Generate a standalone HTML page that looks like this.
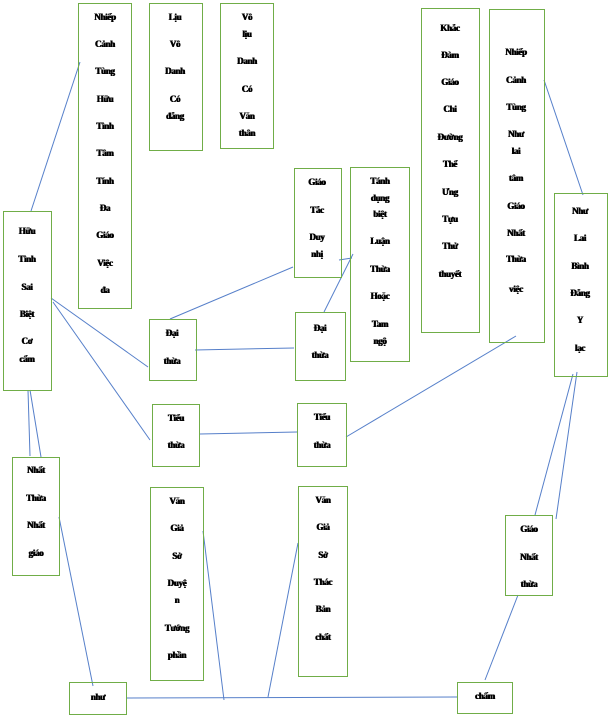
<!DOCTYPE html>
<html><head><meta charset="utf-8"><style>
body{margin:0;width:610px;height:717px;background:#fff;position:relative;overflow:hidden;font-family:"Liberation Serif",serif;}
.b{position:absolute;border:1.3px solid #70ad47;box-sizing:border-box;}
.t{position:absolute;font-weight:bold;font-size:9px;line-height:10px;white-space:nowrap;transform:translate(-50%,-50%);color:#000;letter-spacing:-0.3px;text-shadow:0.4px 0 0 #000,-0.3px 0 0 #000}
svg{position:absolute;left:0;top:0}
</style></head><body>
<svg width="610" height="717"><g stroke="#4472c4" stroke-width="1" fill="none" opacity="0.9">
<line x1="31" y1="211" x2="80" y2="62"/>
<line x1="51" y1="298" x2="148" y2="367"/>
<line x1="53" y1="302" x2="150" y2="440"/>
<line x1="28" y1="390" x2="30" y2="456"/>
<line x1="30" y1="390" x2="41" y2="457"/>
<line x1="170" y1="319" x2="293" y2="267"/>
<line x1="195" y1="350" x2="294" y2="348"/>
<line x1="339" y1="260" x2="352" y2="258"/>
<line x1="324" y1="312" x2="353" y2="254"/>
<line x1="200" y1="434" x2="297" y2="432"/>
<line x1="346" y1="437" x2="516" y2="336"/>
<line x1="544" y1="80" x2="583" y2="195"/>
<line x1="573" y1="374" x2="535" y2="515"/>
<line x1="577" y1="372" x2="556" y2="519"/>
<line x1="518" y1="595" x2="485" y2="680"/>
<line x1="59" y1="517" x2="93" y2="686"/>
<line x1="126" y1="698" x2="457" y2="697"/>
<line x1="203" y1="531" x2="224" y2="700"/>
<line x1="298" y1="543" x2="268" y2="697"/>
</g></svg>

<div class="b" style="left:78px;top:3px;width:54px;height:306px"></div>
<div class="b" style="left:149px;top:3px;width:54px;height:148px"></div>
<div class="b" style="left:220px;top:3px;width:54px;height:146px"></div>
<div class="b" style="left:3px;top:211px;width:49px;height:180px"></div>
<div class="b" style="left:149px;top:319px;width:48px;height:62px"></div>
<div class="b" style="left:294px;top:168px;width:48px;height:110px"></div>
<div class="b" style="left:350px;top:167px;width:60px;height:195px"></div>
<div class="b" style="left:295px;top:312px;width:51px;height:69px"></div>
<div class="b" style="left:421px;top:8px;width:59px;height:325px"></div>
<div class="b" style="left:489px;top:9px;width:56px;height:334px"></div>
<div class="b" style="left:554px;top:193px;width:54px;height:184px"></div>
<div class="b" style="left:152px;top:404px;width:48px;height:63px"></div>
<div class="b" style="left:297px;top:403px;width:50px;height:64px"></div>
<div class="b" style="left:12px;top:457px;width:48px;height:119px"></div>
<div class="b" style="left:150px;top:487px;width:54px;height:194px"></div>
<div class="b" style="left:298px;top:486px;width:50px;height:191px"></div>
<div class="b" style="left:505px;top:515px;width:48px;height:81px"></div>
<div class="b" style="left:69px;top:682px;width:58px;height:33px"></div>
<div class="b" style="left:457px;top:682px;width:56px;height:32px"></div>

<div class="t" style="left:105px;top:17px">Nhiếp</div><div class="t" style="left:105px;top:44px">Cảnh</div><div class="t" style="left:105px;top:71px">Tùng</div><div class="t" style="left:105px;top:99px">Hữu</div><div class="t" style="left:105px;top:126px">Tình</div><div class="t" style="left:105px;top:153px">Tâm</div><div class="t" style="left:105px;top:181px">Tính</div><div class="t" style="left:105px;top:208px">Đa</div><div class="t" style="left:105px;top:235px">Giáo</div><div class="t" style="left:105px;top:263px">Việc</div><div class="t" style="left:105px;top:290px">đa</div>

<div class="t" style="left:175px;top:17px">Lịu</div><div class="t" style="left:175px;top:44px">Vô</div><div class="t" style="left:175px;top:71px">Danh</div><div class="t" style="left:175px;top:99px">Có</div><div class="t" style="left:175px;top:116px">đẳng</div>

<div class="t" style="left:247px;top:17px">Vô</div><div class="t" style="left:247px;top:34px">lịu</div><div class="t" style="left:247px;top:61px">Danh</div><div class="t" style="left:247px;top:89px">Có</div><div class="t" style="left:247px;top:116px">Văn</div><div class="t" style="left:247px;top:133px">thân</div>

<div class="t" style="left:27px;top:231px">Hữu</div><div class="t" style="left:27px;top:259px">Tình</div><div class="t" style="left:27px;top:287px">Sai</div><div class="t" style="left:27px;top:314px">Biệt</div><div class="t" style="left:27px;top:341px">Cơ</div><div class="t" style="left:27px;top:359px">cẩm</div>

<div class="t" style="left:172px;top:333px">Đại</div><div class="t" style="left:172px;top:361px">thừa</div>

<div class="t" style="left:317px;top:182px">Giáo</div><div class="t" style="left:317px;top:210px">Tắc</div><div class="t" style="left:317px;top:237px">Duy</div><div class="t" style="left:317px;top:254px">nhị</div>

<div class="t" style="left:380px;top:181px">Tánh</div><div class="t" style="left:380px;top:198px">dụng</div><div class="t" style="left:380px;top:214px">biệt</div><div class="t" style="left:380px;top:241px">Luận</div><div class="t" style="left:380px;top:269px">Thừa</div><div class="t" style="left:380px;top:296px">Hoặc</div><div class="t" style="left:380px;top:324px">Tam</div><div class="t" style="left:380px;top:341px">ngộ</div>

<div class="t" style="left:320px;top:328px">Đại</div><div class="t" style="left:320px;top:355px">thừa</div>

<div class="t" style="left:450px;top:28px">Khắc</div><div class="t" style="left:450px;top:55px">Đàm</div><div class="t" style="left:450px;top:82px">Giáo</div><div class="t" style="left:450px;top:109px">Chi</div><div class="t" style="left:450px;top:137px">Đường</div><div class="t" style="left:450px;top:164px">Thể</div><div class="t" style="left:450px;top:192px">Ưng</div><div class="t" style="left:450px;top:219px">Tựu</div><div class="t" style="left:450px;top:246px">Thử</div><div class="t" style="left:450px;top:274px">thuyết</div>

<div class="t" style="left:516px;top:52px">Nhiếp</div><div class="t" style="left:516px;top:80px">Cảnh</div><div class="t" style="left:516px;top:107px">Tùng</div><div class="t" style="left:516px;top:134px">Như</div><div class="t" style="left:516px;top:151px">lai</div><div class="t" style="left:516px;top:178px">tâm</div><div class="t" style="left:516px;top:206px">Giáo</div><div class="t" style="left:516px;top:233px">Nhất</div><div class="t" style="left:516px;top:259px">Thừa</div><div class="t" style="left:516px;top:289px">việc</div>

<div class="t" style="left:580px;top:211px">Như</div><div class="t" style="left:580px;top:238px">Lai</div><div class="t" style="left:580px;top:266px">Bình</div><div class="t" style="left:580px;top:293px">Đẳng</div><div class="t" style="left:580px;top:320px">Y</div><div class="t" style="left:580px;top:348px">lạc</div>

<div class="t" style="left:176px;top:418px">Tiểu</div><div class="t" style="left:176px;top:445px">thừa</div>
<div class="t" style="left:322px;top:417px">Tiểu</div><div class="t" style="left:322px;top:445px">thừa</div>

<div class="t" style="left:36px;top:470px">Nhất</div><div class="t" style="left:36px;top:498px">Thừa</div><div class="t" style="left:36px;top:525px">Nhất</div><div class="t" style="left:36px;top:553px">giáo</div>

<div class="t" style="left:177px;top:501px">Văn</div><div class="t" style="left:177px;top:528px">Giả</div><div class="t" style="left:177px;top:556px">Sở</div><div class="t" style="left:177px;top:583px">Duyệ</div><div class="t" style="left:177px;top:600px">n</div><div class="t" style="left:177px;top:628px">Tướng</div><div class="t" style="left:177px;top:655px">phần</div>

<div class="t" style="left:323px;top:500px">Văn</div><div class="t" style="left:323px;top:527px">Giả</div><div class="t" style="left:323px;top:555px">Sở</div><div class="t" style="left:323px;top:582px">Thác</div><div class="t" style="left:323px;top:609px">Bản</div><div class="t" style="left:323px;top:637px">chất</div>

<div class="t" style="left:529px;top:529px">Giáo</div><div class="t" style="left:529px;top:557px">Nhất</div><div class="t" style="left:529px;top:584px">thừa</div>

<div class="t" style="left:98px;top:697px">như</div>
<div class="t" style="left:485px;top:696px">chấm</div>
</body></html>
